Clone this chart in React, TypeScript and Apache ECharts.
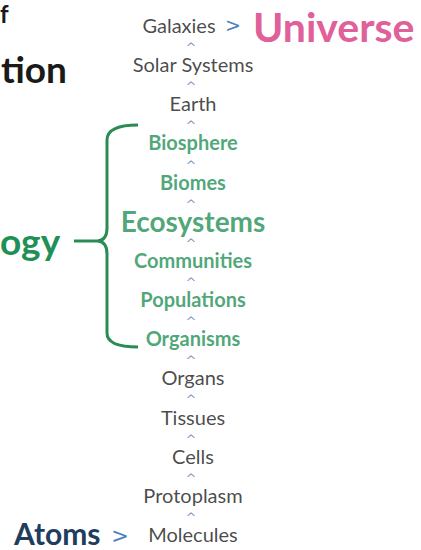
import React, { useEffect, useRef } from "react";
import * as echarts from "echarts";

// Levels of organization, top (largest) to bottom (smallest)
const levels = [
  "Galaxies",
  "Solar Systems",
  "Earth",
  "Biosphere",
  "Biomes",
  "Ecosystems",
  "Communities",
  "Populations",
  "Organisms",
  "Organs",
  "Tissues",
  "Cells",
  "Protoplasm",
  "Molecules",
];
// Ecology levels shown in green (bracketed)
const ecologyLevels = ["Biosphere", "Biomes", "Ecosystems", "Communities", "Populations", "Organisms"];
const emphasized = "Ecosystems";
const topLabel = "Universe";
const bottomLabel = "Atoms";
const caret = "^";
const arrow = ">";

const FONT = "Lato";
const SYM_FONT = "DejaVu Sans";
const BLACK = "#1a1a1a";
const GREEN = "#1f9056";
const BRACE = "#2a8c55";
const PINK = "#e0609a";
const BLUE = "#4f7fbf";
const NAVY = "#1f3d5e";
const CARET = "#5a7bb6";

export default function App() {
  const ref = useRef<HTMLDivElement>(null);
  useEffect(() => {
    document.body.style.margin = "0";
    const chart = echarts.init(ref.current!, null, { renderer: "svg" });
    const itemData = levels.map((name, i) => {
      const green = ecologyLevels.includes(name);
      const big = name === emphasized;
      const size = big ? 28 : 20;
      return {
        name,
        value: [0, i],
        label: {
          show: true,
          formatter: name,
          fontFamily: FONT,
          fontSize: size,
          lineHeight: big ? 22 : 16,
          fontWeight: green ? "bold" : "normal",
          color: green ? GREEN : BLACK,
          offset: i === 0 ? [-14, 0] : [0, 0],
        },
      };
    });
    const caretData = levels.slice(1).map((_, i) => ({ value: [0, i + 0.5] }));
    chart.setOption({
      animation: false,
      backgroundColor: "#ffffff",
      grid: { left: 0, top: 25, width: 386, height: 509 },
      xAxis: { type: "value", min: -1, max: 1, show: false },
      yAxis: { type: "value", min: 0, max: levels.length - 1, inverse: true, show: false },
      series: [
        {
          type: "scatter",
          symbolSize: 1,
          itemStyle: { color: "rgba(0,0,0,0)" },
          label: { show: true, position: "inside" },
          data: itemData,
        },
        {
          type: "scatter",
          symbolSize: 1,
          itemStyle: { color: "rgba(0,0,0,0)" },
          label: {
            show: true,
            position: "inside",
            formatter: caret,
            fontFamily: SYM_FONT,
            fontSize: 13,
            lineHeight: 8,
            color: CARET,
            offset: [-2, 3],
          },
          data: caretData,
        },
      ],
      graphic: [
        {
          type: "text",
          x: 233,
          y: 25,
          style: { text: arrow, fontFamily: SYM_FONT, fontSize: 19, lineHeight: 16, fill: BLUE, align: "center", verticalAlign: "middle" },
        },
        {
          type: "text",
          x: 253,
          y: 26,
          style: { text: topLabel, fontFamily: FONT, fontSize: 41, fontWeight: "bold", lineHeight: 34, fill: PINK, align: "left", verticalAlign: "middle" },
        },
        {
          type: "text",
          x: 14,
          y: 533,
          style: { text: bottomLabel, fontFamily: FONT, fontSize: 30, fontWeight: "bold", lineHeight: 24, fill: NAVY, align: "left", verticalAlign: "middle" },
        },
        {
          type: "text",
          x: 120,
          y: 536,
          style: { text: arrow, fontFamily: SYM_FONT, fontSize: 21, lineHeight: 18, fill: BLUE, align: "center", verticalAlign: "middle" },
        },
        {
          type: "text",
          x: 1,
          y: 68,
          style: { text: "tion", fontFamily: FONT, fontSize: 37, fontWeight: "bold", lineHeight: 30, fill: BLACK, align: "left", verticalAlign: "middle" },
        },
        {
          type: "text",
          x: 0,
          y: 13,
          style: { text: "f", fontFamily: FONT, fontSize: 24, fontWeight: "bold", lineHeight: 20, fill: BLACK, align: "left", verticalAlign: "middle" },
        },
        {
          type: "text",
          x: 0,
          y: 240,
          style: { text: "ogy", fontFamily: FONT, fontSize: 37, fontWeight: "bold", lineHeight: 30, fill: GREEN, align: "left", verticalAlign: "middle" },
        },
        // brace
        { type: "bezierCurve", shape: { x1: 138, y1: 125, cpx1: 107, cpy1: 125, x2: 107, y2: 140 }, style: { stroke: BRACE, lineWidth: 3, fill: "none" } },
        { type: "line", shape: { x1: 107, y1: 140, x2: 107, y2: 228 }, style: { stroke: BRACE, lineWidth: 3 } },
        { type: "bezierCurve", shape: { x1: 107, y1: 228, cpx1: 107, cpy1: 240, x2: 98, y2: 241 }, style: { stroke: BRACE, lineWidth: 3, fill: "none" } },
        { type: "bezierCurve", shape: { x1: 98, y1: 241, cpx1: 107, cpy1: 242, x2: 107, y2: 254 }, style: { stroke: BRACE, lineWidth: 3, fill: "none" } },
        { type: "line", shape: { x1: 107, y1: 254, x2: 107, y2: 333 }, style: { stroke: BRACE, lineWidth: 3 } },
        { type: "bezierCurve", shape: { x1: 107, y1: 333, cpx1: 107, cpy1: 347, x2: 138, y2: 347 }, style: { stroke: BRACE, lineWidth: 3, fill: "none" } },
        { type: "line", shape: { x1: 74, y1: 241, x2: 98, y2: 241 }, style: { stroke: BRACE, lineWidth: 3 } },
      ],
    });
    return () => chart.dispose();
  }, []);
  return <div ref={ref} style={{ width: 421, height: 550, position: "absolute", left: 0, top: 0 }} />;
}
